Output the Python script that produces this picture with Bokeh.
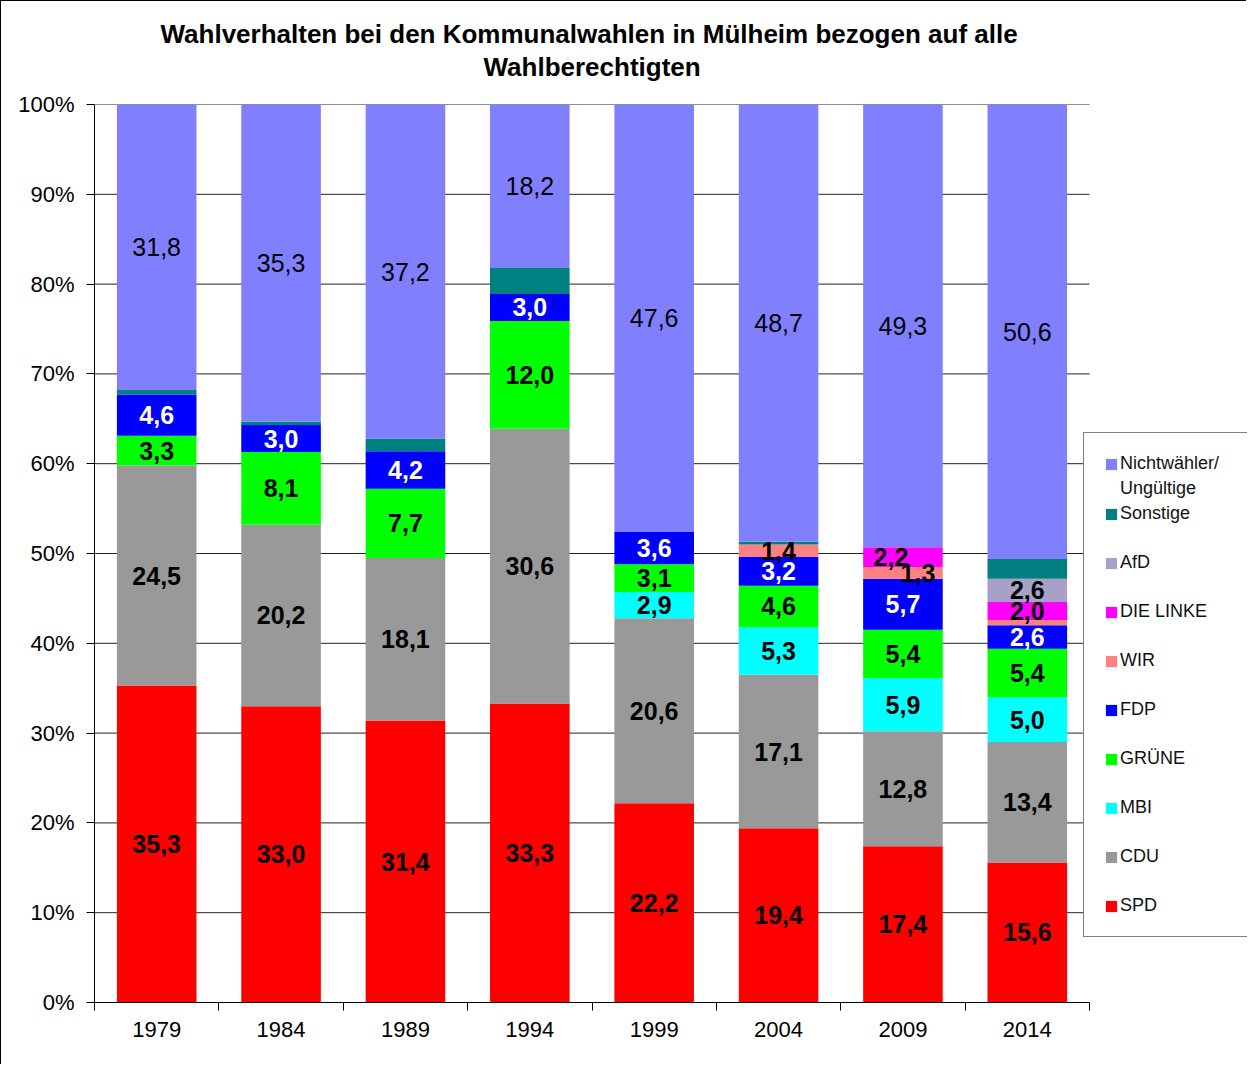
from bokeh.plotting import figure
from bokeh.models import (ColumnDataSource, Range1d, FixedTicker, PrintfTickFormatter,
                          Legend, LegendItem, Title)
from bokeh.core.properties import value
from bokeh.embed import file_html
from bokeh.resources import INLINE

# ---------------- data ----------------
years = ["1979", "1984", "1989", "1994", "1999", "2004", "2009", "2014"]
spd = [35.3, 33.0, 31.4, 33.3, 22.2, 19.4, 17.4, 15.6]
cdu = [24.5, 20.2, 18.1, 30.6, 20.6, 17.1, 12.8, 13.4]
mbi = [0.0, 0.0, 0.0, 0.0, 2.9, 5.3, 5.9, 5.0]
gruene = [3.3, 8.1, 7.7, 12.0, 3.1, 4.6, 5.4, 5.4]
fdp = [4.6, 3.0, 4.2, 3.0, 3.6, 3.2, 5.7, 2.6]
wir = [0.0, 0.0, 0.0, 0.0, 0.0, 1.4, 1.3, 0.6]
linke = [0.0, 0.0, 0.0, 0.0, 0.0, 0.0, 2.2, 2.0]
afd = [0.0, 0.0, 0.0, 0.0, 0.0, 0.0, 0.0, 2.6]
sonstige = [0.5, 0.4, 1.4, 2.9, 0.0, 0.3, 0.0, 2.2]
nichtwaehler = [31.8, 35.3, 37.2, 18.2, 47.6, 48.7, 49.3, 50.6]

series_keys = ["spd", "cdu", "mbi", "gruene", "fdp", "wir", "linke", "afd", "sonstige", "nicht"]
series_vals = [spd, cdu, mbi, gruene, fdp, wir, linke, afd, sonstige, nichtwaehler]
series_names = ["SPD", "CDU", "MBI", "GRÜNE", "FDP", "WIR", "DIE LINKE", "AfD", "Sonstige", "Nichtwähler/"]
colors = ["#FF0000", "#999999", "#00FFFF", "#00FF00", "#0000FF", "#FF8080",
          "#FF00FF", "#A8A0C6", "#008080", "#8080FF"]
yticks = list(range(0, 101, 10))
title_line1 = "Wahlverhalten bei den Kommunalwahlen in Mülheim  bezogen auf alle"
title_line2 = "Wahlberechtigten"

FONT = "Liberation Sans"

# ---------------- geometry ----------------
W, H = 1246, 1064
BL, BT = 93, 103
PLOT_W, FRAME_H = 995, 898          # width of the 8 categories, frame height
FRAME_W = W - BL                      # frame extends to the right edge (room for legend)
n = len(years)
unit = PLOT_W / n
xmax = FRAME_W / unit

p = figure(width=W, height=H, x_range=Range1d(0, xmax), y_range=Range1d(0, 100),
           output_backend="svg", toolbar_location=None, tools="", title=None,
           min_border_left=BL, min_border_right=0, min_border_top=BT,
           min_border_bottom=H - BT - FRAME_H)
p.outline_line_color = None
p.background_fill_color = "white"
p.border_fill_color = "white"
p.styles = {"border-left": "1px solid #000", "border-top": "1px solid #000"}

xs = [i + 0.5 for i in range(n)]

# grid lines limited to the category area
p.xgrid.visible = False
p.ygrid.visible = False
p.segment(x0=[0] * len(yticks), x1=[n] * len(yticks), y0=yticks, y1=yticks,
          line_color="#222222", line_width=1)

data = {"x": xs}
for k, v in zip(series_keys, series_vals):
    data[k] = v
src = ColumnDataSource(data)
rends = p.vbar_stack(series_keys, x="x", width=0.64, source=src,
                     fill_color=colors, line_color=None)

# ---------------- data labels ----------------
nudge = {("2009", "linke"): -12, ("2009", "wir"): 15}
groups = {"bold_black": dict(x=[], y=[], text=[], dx=[]),
          "bold_white": dict(x=[], y=[], text=[], dx=[]),
          "normal_black": dict(x=[], y=[], text=[], dx=[])}
cum = [0.0] * n
for k, vals in zip(series_keys, series_vals):
    for i, v in enumerate(vals):
        mid = cum[i] + v / 2.0
        cum[i] += v
        if k == "sonstige" or v < 1.0:
            continue
        g = "bold_white" if k == "fdp" else ("normal_black" if k == "nicht" else "bold_black")
        groups[g]["x"].append(xs[i])
        groups[g]["y"].append(mid)
        groups[g]["text"].append(("%.1f" % v).replace(".", ","))
        groups[g]["dx"].append(nudge.get((years[i], k), 0))

for g, d in groups.items():
    p.text(x="x", y="y", text="text", x_offset="dx", source=ColumnDataSource(d),
           text_align="center", text_baseline="middle",
           text_font=value(FONT), text_font_size="25px",
           text_font_style="normal" if g == "normal_black" else "bold",
           text_color="white" if g == "bold_white" else "black")

# ---------------- axes ----------------
p.xaxis.bounds = (0, n)
p.xaxis.ticker = FixedTicker(ticks=xs, minor_ticks=list(range(n + 1)))
p.xaxis.major_label_overrides = {xs[i]: years[i] for i in range(n)}
p.xaxis.major_tick_out = 0
p.xaxis.major_tick_in = 0
p.xaxis.minor_tick_out = 8
p.xaxis.minor_tick_in = 0
p.xaxis.minor_tick_line_color = "black"
p.xaxis.major_label_standoff = 11

p.yaxis.ticker = FixedTicker(ticks=yticks, minor_ticks=[])
p.yaxis.formatter = PrintfTickFormatter(format="%d%%")
p.yaxis.major_tick_out = 8
p.yaxis.major_tick_in = 0
p.yaxis.major_label_standoff = 12

for ax in (p.xaxis, p.yaxis):
    ax.axis_line_color = "black"
    ax.major_tick_line_color = "black"
    ax.major_label_text_font = FONT
    ax.major_label_text_font_size = "22px"
    ax.major_label_text_color = "black"

# ---------------- title (two lines, centred over the category area) ----------------
# spacer between frame and the title block
p.add_layout(Title(text=" ", text_font_size="1px", standoff=20), "above")
p.add_layout(Title(text=title_line2, align="left", offset=389,
                   text_font=FONT, text_font_size="26px", text_font_style="bold",
                   text_color="black", standoff=0), "above")
p.add_layout(Title(text=title_line1, align="left", offset=66,
                   text_font=FONT, text_font_size="26px", text_font_style="bold",
                   text_color="black", standoff=2), "above")

# ---------------- legend ----------------
LEG_X = 1083 - (BL + 1)
items = [LegendItem(label=series_names[-1], renderers=[rends[-1]]),
         LegendItem(label="Ungültige", renderers=[])]
for j in reversed(range(len(rends) - 1)):
    items.append(LegendItem(label=" ", renderers=[]))   # half-step spacer row
    items.append(LegendItem(label=series_names[j], renderers=[rends[j]]))
# drop the spacer directly after "Ungültige" so Sonstige follows it
items.pop(2)
legend = Legend(items=items, location=(LEG_X, 65), orientation="vertical",
                padding=20, spacing=4, label_height=20, glyph_height=14, glyph_width=14,
                label_standoff=2, margin=0, label_width=107,
                border_line_color="black", border_line_width=1,
                background_fill_color="white", background_fill_alpha=1.0,
                label_text_font=FONT, label_text_font_size="18px", label_text_color="#111111")
p.add_layout(legend)

open("out.html", "w").write(file_html(p, INLINE))
